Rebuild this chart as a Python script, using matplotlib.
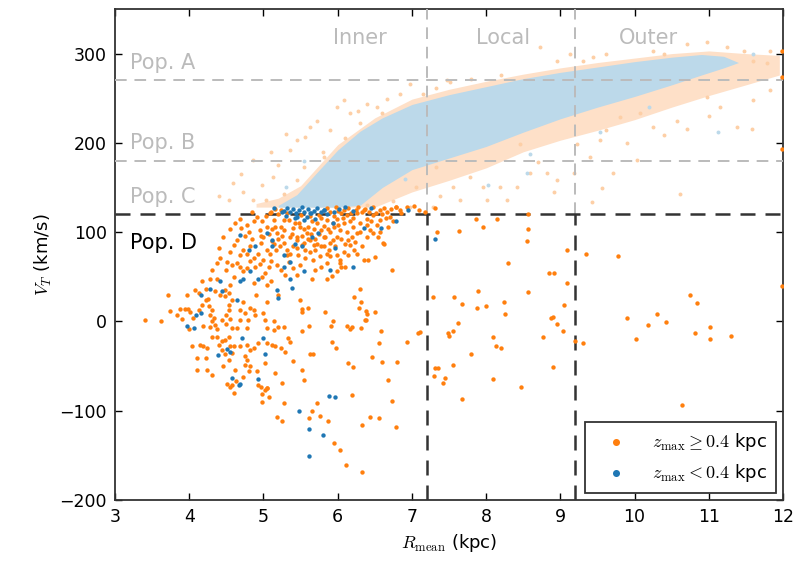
import numpy as np
import matplotlib
matplotlib.use("Agg")
from matplotlib import pyplot as plt

plt.rcParams['mathtext.fontset'] = 'cm'
plt.rcParams['font.family'] = ['DejaVu Sans']

# dense disc cloud (V_T above the cut), drawn as envelopes
core_r = [5.20, 5.45, 5.70, 6.00, 6.30, 6.60, 7.00, 7.50, 8.00, 8.50,
          9.00, 9.50, 10.00, 10.50, 10.90, 11.20, 11.40]
core_hi = [130, 142, 165, 192, 213, 228, 243, 254, 263, 272,
           279, 285, 291, 296, 299, 297, 290]
core_lo = [128, 128, 128, 128, 130, 150, 170, 183, 196, 212,
           227, 240, 252, 265, 276, 284, 290]

halo_r = [4.9, 5.2, 5.5, 6.0, 6.5, 7.0, 7.5, 8.0, 8.5, 9.0, 9.5,
          10.0, 10.5, 11.0, 11.5, 11.95]
halo_hi = [132, 138, 152, 198, 228, 249, 260, 269, 277, 284, 290,
           295, 300, 303, 300, 298]
halo_lo = [128, 128, 128, 128, 128, 145, 158, 172, 190, 203, 214,
           226, 240, 253, 265, 276]

# faded stars outside the dense cloud
faint_orange = [
    (4.59, 155), (4.73, 145), (4.86, 181), (4.98, 153), (5.04, 136),
    (5.13, 162), (5.20, 175), (5.27, 143), (5.36, 192), (5.45, 203),
    (5.56, 207), (5.63, 218), (5.72, 225), (5.90, 214), (5.99, 240),
    (6.08, 248), (6.17, 233), (6.28, 236), (6.39, 244), (6.53, 240),
    (6.66, 249), (6.84, 255), (6.97, 266), (7.15, 255), (7.33, 262),
    (7.51, 268), (5.54, 173), (5.81, 184), (5.45, 158), (4.86, 136),
    (4.53, 136), (5.67, 155), (6.97, 128), (7.33, 173), (7.47, 270),
    (8.73, 307), (8.95, 292), (9.13, 300), (9.44, 296), (9.62, 300),
    (10.25, 303), (10.70, 311), (10.97, 313), (11.24, 307), (11.47, 303),
    (11.60, 292), (11.82, 303), (11.78, 289), (11.82, 259), (11.60, 248),
    (11.38, 218), (11.58, 216), (11.15, 240), (10.97, 251), (10.70, 216),
    (10.57, 225), (10.61, 143), (10.39, 209), (10.03, 181), (10.25, 218),
    (10.07, 233), (9.80, 229), (9.62, 214), (9.53, 203), (9.71, 166),
    (9.56, 149), (9.42, 134), (9.40, 184), (9.22, 199), (9.18, 166),
    (8.95, 158), (8.91, 145), (8.82, 166), (8.59, 166), (8.41, 151),
    (8.28, 136), (8.19, 151), (8.01, 136), (7.96, 151), (7.78, 162),
    (7.65, 136), (7.56, 151), (7.38, 140), (7.29, 128), (8.46, 199),
    (4.40, 140), (4.70, 165), (5.10, 190), (5.30, 210), (6.40, 130),
    (6.75, 135), (7.05, 150), (8.70, 178), (9.90, 200), (11.00, 230),
    (6.10, 205), (6.60, 233), (7.80, 272), (8.20, 276), (9.30, 292),
    (10.40, 300), (5.80, 190), (6.30, 222),
]
faint_blue = [
    (11.13, 212), (9.53, 212), (8.55, 166), (8.03, 153), (8.59, 188),
    (11.60, 300), (5.30, 150), (5.55, 180), (6.90, 160), (10.20, 240),
]

# stars with z_max >= 0.4 kpc
orange_left = [
    (3.41, 2), (3.62, 0), (3.74, 12), (3.83, 7), (3.87, 14), (3.94, 14),
    (3.98, 14), (4.01, 11), (4.00, -9), (3.72, 30), (3.97, 30), (4.05, 4),
    (4.13, 13), (4.17, 18), (4.22, 24), (4.26, 17), (4.31, 13), (4.28, 7),
    (4.33, 4), (4.31, 0), (4.35, -4), (4.28, -6), (4.38, -9), (4.44, 2),
    (4.50, -3), (4.50, 7), (4.53, 13), (4.55, 3), (4.54, 18), (4.57, 24),
    (4.48, 28), (4.42, 30), (4.69, 13), (4.73, 22), (4.75, 9), (4.79, 2),
    (4.82, 15), (4.87, 13), (4.89, 7), (4.69, 2), (4.78, -8), (4.64, -8),
    (4.57, -8), (5.05, 22), (5.00, 9), (5.02, 2), (5.14, 0), (5.20, -6),
    (5.27, -6), (5.05, -8), (5.14, -10), (5.33, -19), (4.04, -28),
    (4.15, -27), (4.19, -28), (4.24, -30), (4.22, -41), (4.30, -17),
    (4.37, -17), (4.40, -26), (4.44, -22), (4.48, -21), (4.53, -17),
    (4.55, -28), (4.60, -28), (4.44, -32), (4.48, -37), (4.53, -43),
    (4.57, -35), (4.69, -28), (4.78, -26), (4.82, -32), (4.87, -30),
    (4.93, -24), (5.05, -24), (5.11, -26), (5.16, -28), (5.23, -30),
    (5.29, -34), (4.75, -39), (4.78, -43), (4.82, -50), (4.75, -49),
    (4.80, -56), (4.73, -62), (4.51, -70), (4.57, -71), (4.91, -56),
    (5.02, -47), (5.16, -58), (5.25, -69), (4.93, -71), (5.05, -75),
    (4.10, -54), (4.24, -54), (4.31, -60), (4.46, -50), (4.62, -54),
    (4.63, -67), (4.10, -41), (4.18, -5), (3.90, 3),
]
orange_mid = [
    (4.55, 103), (4.64, 91), (4.60, 86), (4.73, 80), (4.78, 76), (4.82, 84),
    (4.42, 71), (4.38, 65), (4.51, 67), (4.57, 63), (4.64, 65), (4.69, 61),
    (4.73, 56), (4.78, 60), (4.87, 71), (4.89, 61), (4.98, 50), (5.02, 54),
    (5.07, 61), (5.18, 63), (5.23, 58), (5.29, 52), (5.34, 67), (4.31, 58),
    (4.17, 45), (4.28, 47), (4.37, 48), (4.08, 35), (4.13, 32), (4.22, 36),
    (4.35, 34), (4.48, 35), (4.53, 32), (4.55, 41), (4.87, 43), (5.05, 41),
    (4.60, 50), (4.96, 88), (5.00, 95), (4.93, 76), (5.09, 76), (5.14, 87),
    (5.18, 99), (5.23, 106), (5.27, 113), (5.14, 113), (5.05, 106),
    (5.32, 121), (5.23, 125), (5.09, 121), (4.91, 117), (4.87, 112),
    (4.69, 115), (5.00, 69), (5.32, 80), (5.36, 95), (4.45, 95), (4.40, 82),
    (4.95, 102), (4.80, 100), (5.10, 45), (4.25, 25), (4.90, 30), (5.20, 30),
    (4.98, 112), (5.03, 118), (5.12, 104), (5.20, 92), (5.08, 98),
    (4.96, 96), (4.85, 92), (4.75, 96), (4.70, 105), (4.62, 110),
    (4.85, 122), (4.78, 108), (5.28, 88), (5.17, 80), (5.10, 68),
    (4.95, 64), (4.82, 68), (4.68, 74), (4.55, 78), (4.50, 58),
]
orange_dense = [
    (6.17, 112), (6.21, 106), (6.26, 99), (6.19, 95), (6.14, 91), (6.10, 87),
    (6.17, 86), (6.23, 89), (6.30, 100), (6.44, 102), (6.48, 99), (6.39, 95),
    (6.61, 88), (6.53, 108), (6.70, 117), (6.84, 125), (6.93, 128),
    (7.03, 129), (7.09, 125), (6.79, 128), (5.45, 91), (5.56, 80), (5.63, 78),
    (5.72, 87), (5.81, 84), (5.85, 76), (5.90, 73), (5.99, 74), (6.03, 69),
    (6.08, 78), (6.14, 74), (6.26, 76), (6.35, 69), (6.41, 69), (6.03, 65),
    (5.85, 65), (5.78, 61), (5.69, 58), (5.49, 63), (5.45, 52), (5.40, 60),
    (5.66, 47), (5.85, 48), (5.92, 51), (5.99, 56), (6.10, 61), (6.73, 57),
    (6.30, 36), (5.36, 76), (6.05, 61), (5.76, 73), (5.67, 69), (5.56, 71),
    (5.47, 74), (5.63, 91), (5.81, 95), (5.90, 100), (5.99, 95), (6.03, 102),
    (6.08, 110), (5.94, 91), (5.58, 99), (5.49, 106), (5.72, 110),
    (5.85, 113), (5.99, 115), (6.12, 119), (6.26, 121), (6.39, 115),
    (6.48, 119), (6.57, 113), (6.30, 110), (6.62, 87), (6.57, 100),
    (6.50, 72), (6.39, 8), (6.37, 1), (6.17, -9),
    (5.85, 127), (5.90, 123), (5.98, 128), (6.04, 121), (6.08, 125),
    (6.14, 127), (6.18, 121), (6.24, 125), (6.28, 128), (6.33, 122),
    (6.37, 126), (6.42, 123), (6.48, 128), (6.52, 121), (6.57, 125),
    (6.62, 127), (6.66, 122), (6.72, 126), (5.50, 119), (5.62, 118),
    (5.75, 119), (5.20, 120), (5.15, 126), (5.10, 122), (6.85, 121),
    (6.78, 128), (5.35, 113), (5.48, 110), (5.66, 112), (5.78, 116),
    (5.95, 118), (6.07, 116), (5.15, 106), (5.28, 102), (5.40, 105),
    (5.55, 103), (5.68, 104), (5.82, 107), (5.12, 90), (5.25, 96),
    (5.38, 98), (5.45, 95), (5.60, 92), (5.75, 98), (5.90, 88), (5.05, 80),
    (5.22, 84), (5.32, 74), (5.45, 82), (5.55, 88), (5.70, 80), (5.83, 94),
    (6.45, 112), (6.60, 120), (6.35, 125), (5.95, 106), (6.20, 116),
    (5.42, 110), (5.52, 96), (5.60, 106), (5.64, 98), (5.70, 92),
    (5.78, 102), (5.87, 104), (5.93, 110), (6.00, 108), (6.12, 100),
    (6.05, 92), (5.97, 84), (5.88, 80), (5.78, 84), (5.68, 86),
    (5.52, 86), (5.40, 84), (6.22, 80), (6.33, 84), (6.40, 108),
    (6.54, 94), (6.68, 106), (6.75, 112), (6.65, 116), (6.00, 124),
]
orange_low = [
    (5.49, 24), (5.52, 14), (5.52, 11), (5.60, 15), (5.83, 10), (6.22, 27),
    (6.32, 22), (6.29, 15), (6.38, 12), (6.50, 10), (6.38, 1), (6.32, -8),
    (6.13, -5), (6.19, -6), (5.94, 0), (5.91, -5), (5.61, -5), (5.52, -11),
    (6.58, -11), (6.56, -24), (7.08, -13), (6.94, -23), (5.92, -23),
    (5.98, -30), (5.63, -37), (5.67, -37), (5.40, -44), (6.46, -40),
    (6.60, -46), (6.80, -46), (6.14, -47), (6.21, -51), (5.52, -54),
    (5.55, -66), (6.68, -66), (5.36, -23),
    (4.60, -80), (4.55, -73), (4.97, -73), (4.98, -81), (4.98, -90),
    (5.02, -77), (5.05, -75), (5.08, -85), (5.28, -91), (5.18, -107),
    (5.25, -112), (5.61, -108), (5.65, -100), (5.72, -92), (5.76, -106),
    (5.87, -112), (6.19, -82), (5.95, -136), (6.03, -144), (6.11, -161),
    (6.33, -169), (6.33, -116), (6.44, -107), (6.55, -108), (6.73, -89),
    (6.79, -118),
]
orange_right = [
    (7.34, 100), (7.18, 122), (7.31, 127), (7.64, 101), (7.87, 115),
    (7.96, 106), (8.15, 115), (8.57, 120), (8.57, 103), (8.55, 90),
    (9.09, 80), (9.35, 75), (9.77, 73), (8.30, 65), (8.85, 54), (8.92, 54),
    (9.09, 43), (8.57, 33), (7.89, 34), (7.29, 27), (7.57, 27), (7.68, 20),
    (7.88, 15), (8.00, 17), (8.24, 22), (8.26, 8), (9.05, 18), (8.88, 4),
    (8.90, 5), (8.96, -3), (9.04, -11), (8.77, -17), (7.62, -2), (7.56, -11),
    (7.49, -13), (7.50, -16), (8.09, -18), (8.13, -28), (8.20, -30),
    (7.80, -37), (9.20, -22), (9.31, -24), (7.11, -12), (7.31, -52),
    (7.35, -52), (7.30, -61), (7.45, -64), (7.42, -69), (7.56, -49),
    (8.90, -51), (8.09, -65), (8.47, -73), (7.68, -87),
    (10.75, 30), (10.84, 21), (9.90, 4), (10.02, -20), (10.18, -4),
    (10.30, 8), (10.43, -1), (10.82, -13), (11.02, -6), (11.01, -20),
    (11.30, -16), (11.99, 40), (10.64, -94),
    (11.99, 303), (11.98, 274), (11.98, 193),
]

# stars with z_max < 0.4 kpc
blue_pts = [
    (3.97, -5), (4.06, -8), (4.09, 7), (4.16, 9), (4.16, 29), (4.64, 24),
    (5.19, 26), (4.71, -19), (5.00, -19), (5.02, -37), (4.39, -38),
    (4.51, -31), (4.55, -34), (4.57, -64), (4.69, -70), (4.93, -65),
    (4.69, 97), (4.80, 80), (4.89, 84), (5.11, 84), (5.11, 91), (5.05, 99),
    (4.82, 56), (4.93, 48), (4.73, 47), (5.27, 61), (5.27, 74), (4.41, 45),
    (4.28, 36), (4.44, 34), (4.69, 45), (5.18, 35), (5.25, 123), (5.14, 127),
    (6.79, 112), (6.59, 105), (6.35, 105), (5.74, 99), (5.94, 110),
    (5.66, 95), (5.42, 87), (5.52, 84), (5.96, 82), (5.90, 58), (6.21, 61),
    (5.54, 56), (5.36, 67), (5.36, 47), (5.38, 37), (5.54, 113), (5.45, 117),
    (5.63, 121), (5.81, 125), (6.95, 125), (7.31, 92),
    (5.28, 124), (5.32, 127), (5.36, 122), (5.40, 126), (5.44, 121),
    (5.48, 125), (5.52, 128), (5.55, 123), (5.60, 126), (5.64, 121),
    (5.68, 124), (5.72, 127), (5.77, 122), (5.82, 125), (5.30, 118),
    (5.42, 116), (5.58, 117), (5.70, 115), (5.86, 120), (6.02, 126),
    (6.20, 124), (6.45, 127), (5.95, 122), (6.10, 128),
    (4.67, -71), (5.48, -101), (5.88, -84), (5.96, -85), (5.61, -121),
    (5.80, -127), (5.61, -151),
]

orange_pts = orange_left + orange_mid + orange_dense + orange_low + orange_right

pop_labels = ['Pop. A', 'Pop. B', 'Pop. C', 'Pop. D']
pop_label_v = [289, 200, 139, 88]
region_labels = ['Inner', 'Local', 'Outer']
region_label_r = [6.30, 8.23, 10.18]

r_cuts = [7.2, 9.2]
v_cut = 120
v_pop = [180, 270]

ORANGE = '#ff7f0e'
BLUE = '#1f77b4'
GREY = '#bbbbbb'


def split(pts):
    arr = np.array(pts, dtype=float)
    return arr[:, 0], arr[:, 1]


def draw():
    fig = plt.figure(figsize=(7.99, 5.61), dpi=100)
    ax = fig.add_axes([0.144, 0.109, 0.836, 0.875])

    # faded disc population
    ax.fill_between(halo_r, halo_lo, halo_hi, color='#fee0c8', lw=0, zorder=1)
    r, v = split(faint_orange)
    ax.scatter(r, v, s=8, color='#fdcfa6', lw=0, zorder=1)
    ax.fill_between(core_r, core_lo, core_hi, color='#bcd9ea', lw=0, zorder=2)
    r, v = split(faint_blue)
    ax.scatter(r, v, s=8, color='#bcd9ea', lw=0, zorder=2)

    # region boundaries
    dash = (0, (6, 4))
    for rc in r_cuts:
        ax.plot([rc, rc], [v_cut, 350], color=GREY, lw=1.4, ls=dash, zorder=3)
        ax.plot([rc, rc], [-200, v_cut], color='#333333', lw=1.8, ls=dash,
                zorder=3)
    for vp in v_pop:
        ax.axhline(vp, color=GREY, lw=1.4, ls=dash, zorder=3)
    ax.axhline(v_cut, color='#333333', lw=1.8, ls=dash, zorder=3)

    # highlighted stars
    r, v = split(orange_pts)
    ax.scatter(r, v, s=10, color=ORANGE, lw=0, zorder=4,
               label=r'$z_{\rm max} \geq 0.4$ kpc')
    r, v = split(blue_pts)
    ax.scatter(r, v, s=10, color=BLUE, lw=0, zorder=5,
               label=r'$z_{\rm max} < 0.4$ kpc')

    for lab, vy in zip(pop_labels, pop_label_v):
        col = 'black' if lab == 'Pop. D' else GREY
        ax.text(3.2, vy, lab, fontsize=15, color=col, va='center', ha='left',
                zorder=6)
    for lab, rx in zip(region_labels, region_label_r):
        ax.text(rx, 318, lab, fontsize=15, color=GREY, va='center',
                ha='center', zorder=6)

    ax.set_xlim(3, 12)
    ax.set_ylim(-200, 350)
    ax.set_xticks(range(3, 13))
    ax.set_yticks([-200, -100, 0, 100, 200, 300])
    ax.tick_params(direction='in', top=True, right=True, labelsize=12.5,
                   length=5, width=1, pad=6)
    for sp in ax.spines.values():
        sp.set_linewidth(1.3)
        sp.set_color('#333333')
    ax.set_xlabel(r'$R_{\rm mean}$ (kpc)', fontsize=13)
    ax.set_ylabel(r'$V_T$ (km/s)', fontsize=13)

    leg = ax.legend(loc='lower right', fontsize=13, markerscale=1.6,
                    fancybox=False, edgecolor='#333333', framealpha=1,
                    handlelength=2.4, handletextpad=0.8, borderpad=0.5,
                    borderaxespad=0.4, scatterpoints=1)
    leg.get_frame().set_linewidth(1.3)

    fig.savefig('out.png', dpi=100)


if __name__ == '__main__':
    draw()
